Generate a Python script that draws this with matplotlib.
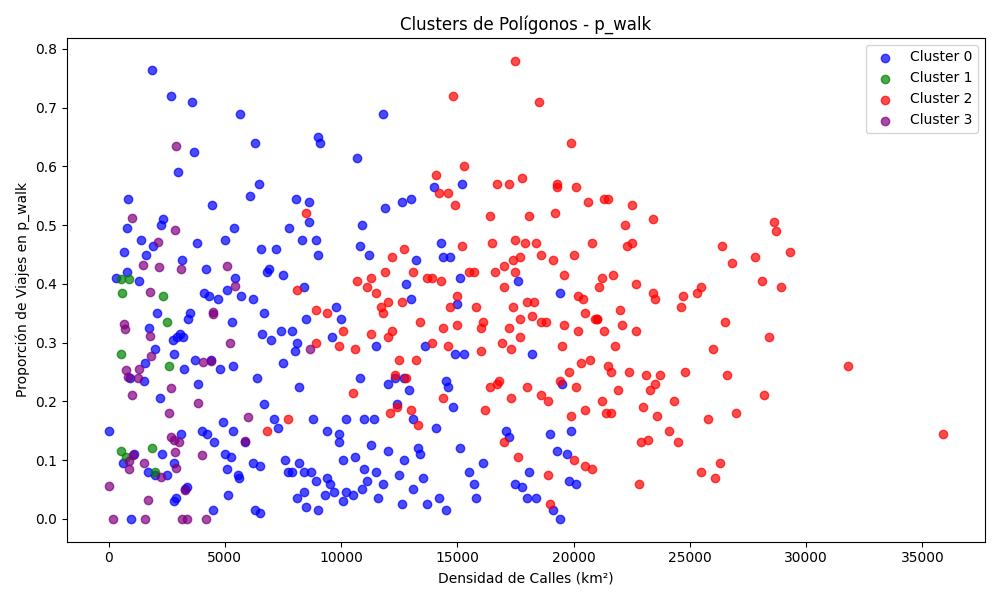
import matplotlib.pyplot as plt

# cluster 0
c0_x = [0,300,600,650,800,800,850,900,950,1100,1300,1400,1500,1550,1600,1700,1750,1850,1900,2000,2000,2100,2200,2250,2300,2350,2500,2700,2750,2800,2800,2800,2900,2950,3000,3050,3100,3150,3200,3250,3300,3350,3400,3500,3600,3650,3700,3800,3850,4000,4100,4200,4250,4300,4400,4450,4500,4550,4700,4800,4900,5000,5000,5100,5100,5150,5250,5300,5350,5350,5400,5450,5550,5600,5650,5700,5850,6100,6200,6200,6300,6300,6400,6450,6500,6500,6550,6600,6700,6700,6800,6900,7000,7100,7200,7300,7400,7500,7500,7600,7700,7750,7900,7900,8000,8050,8100,8100,8200,8200,8300,8400,8400,8400,8500,8500,8600,8600,8700,8800,8900,8900,9000,9000,9000,9100,9300,9400,9400,9500,9600,9700,9800,9900,9900,10000,10100,10100,10200,10200,10500,10600,10700,10800,10800,10900,10900,11000,11000,11100,11200,11300,11400,11500,11500,11600,11800,11800,11900,12000,12000,12300,12400,12500,12600,12600,12700,12700,12800,12900,13000,13000,13100,13100,13200,13300,13400,13500,13600,13700,14000,14100,14200,14300,14400,14500,14500,14600,14700,14800,14900,15000,15100,15100,15200,15300,15500,15700,15800,16100,17100,17200,17500,17600,17800,18000,18100,18200,18400,19000,19100,19300,19400,19400,19500,19700,19800,19900,20100]
c0_y = [0.15,0.41,0.095,0.455,0.42,0.495,0.545,0.24,0,0.11,0.405,0.475,0.235,0.265,0.45,0.08,0.325,0.765,0.465,0.29,0.075,0.35,0.205,0.5,0.11,0.51,0.075,0.72,0.305,0.095,0.28,0.03,0.035,0.31,0.59,0.315,0.145,0.44,0.31,0.255,0.05,0.055,0.34,0.35,0.71,0.625,0.27,0.47,0.23,0.15,0.385,0.425,0.145,0.38,0.27,0.535,0.015,0.13,0.375,0.255,0.165,0.11,0.475,0.085,0.39,0.04,0.105,0.335,0.26,0.15,0.495,0.41,0.075,0.07,0.69,0.38,0.13,0.55,0.375,0.095,0.64,0.015,0.24,0.57,0.09,0.01,0.46,0.315,0.195,0.35,0.42,0.425,0.305,0.17,0.46,0.155,0.32,0.415,0.265,0.1,0.08,0.495,0.08,0.32,0.285,0.545,0.3,0.035,0.225,0.095,0.475,0.395,0.08,0.045,0.34,0.02,0.54,0.505,0.08,0.17,0.065,0.475,0.45,0.015,0.65,0.64,0.04,0.07,0.15,0.06,0.31,0.045,0.36,0.13,0.145,0.34,0.03,0.1,0.17,0.045,0.04,0.105,0.615,0.465,0.24,0.5,0.05,0.17,0.085,0.065,0.45,0.125,0.17,0.295,0.08,0.035,0.06,0.69,0.53,0.23,0.115,0.24,0.195,0.075,0.54,0.025,0.1,0.24,0.4,0.22,0.545,0.375,0.17,0.05,0.44,0.12,0.11,0.07,0.295,0.025,0.565,0.155,0.035,0.47,0.445,0.015,0.235,0.225,0.445,0.19,0.28,0.365,0.41,0.12,0.57,0.28,0.08,0.06,0.035,0.095,0.15,0.14,0.06,0.405,0.055,0.035,0.08,0.28,0.035,0.145,0.015,0.115,0,0.385,0.23,0.11,0.065,0.15,0.06]

# cluster 1
c1_x = [550,880,580,2340,2500,525,510,740,1880,2000,2600]
c1_y = [0.408,0.408,0.385,0.38,0.335,0.28,0.115,0.105,0.12,0.08,0.26]

# cluster 2
c2_x = [6800,7700,8100,8500,8900,8900,9400,9900,10100,10500,10600,10700,11100,11300,11300,11500,11700,11800,11900,12000,12000,12100,12200,12200,12300,12400,12500,12600,12700,12800,13000,13100,13200,13300,13400,13700,13900,14100,14200,14300,14400,14400,14600,14700,14800,14900,15000,15000,15200,15300,15700,15800,16000,16000,16100,16200,16400,16500,16600,16700,16800,16900,17000,17000,17200,17200,17300,17300,17400,17400,17500,17500,17500,17600,17700,17700,17800,17900,18000,18000,18100,18200,18400,18500,18600,18600,18800,18900,19000,19100,19200,19300,19400,19500,19600,19800,19900,19900,20000,20100,20100,20200,20300,20400,20500,20600,20700,20800,20800,21000,21100,21200,21300,21300,21500,21700,21800,22000,22100,22200,22300,22400,22500,22700,22800,23000,23100,23200,23300,23400,23400,23500,23600,23700,24100,24300,24500,24600,24700,24800,25300,25500,25500,25800,26000,26100,26300,26400,26500,26600,26800,27000,27800,28100,28200,28400,28600,28700,28900,29300,31800,35900,13900,15500,14600,19600,20500,21000,22500,18300,17000,16400,18600,21500,21900,22700,19300,20200,20900,21600,21400,21600,21200,22900,23500,20000,20500,17700,16700,18900]
c2_y = [0.15,0.17,0.39,0.52,0.3,0.355,0.35,0.295,0.32,0.215,0.29,0.405,0.395,0.41,0.315,0.385,0.36,0.35,0.42,0.37,0.31,0.18,0.445,0.32,0.245,0.19,0.27,0.37,0.46,0.24,0.185,0.42,0.27,0.16,0.335,0.41,0.3,0.585,0.555,0.405,0.325,0.205,0.295,0.36,0.72,0.535,0.38,0.33,0.465,0.6,0.42,0.36,0.325,0.285,0.335,0.185,0.515,0.47,0.42,0.57,0.235,0.3,0.395,0.43,0.57,0.325,0.29,0.205,0.44,0.36,0.42,0.475,0.78,0.105,0.445,0.31,0.58,0.47,0.225,0.37,0.515,0.345,0.47,0.71,0.45,0.21,0.335,0.075,0.025,0.44,0.52,0.565,0.235,0.295,0.415,0.25,0.64,0.175,0.45,0.225,0.565,0.32,0.265,0.375,0.185,0.54,0.27,0.47,0.085,0.34,0.395,0.41,0.545,0.32,0.545,0.415,0.295,0.355,0.33,0.5,0.465,0.25,0.535,0.32,0.06,0.19,0.245,0.135,0.22,0.51,0.385,0.375,0.175,0.245,0.15,0.2,0.13,0.36,0.38,0.25,0.385,0.395,0.08,0.17,0.29,0.07,0.095,0.465,0.335,0.245,0.435,0.18,0.445,0.405,0.21,0.31,0.505,0.49,0.395,0.455,0.26,0.145,0.41,0.42,0.555,0.33,0.35,0.34,0.47,0.37,0.13,0.225,0.335,0.26,0.22,0.4,0.57,0.38,0.34,0.25,0.18,0.18,0.2,0.13,0.23,0.1,0.09,0.34,0.23,0.2]

# cluster 3
c3_x = [0,170,670,710,750,840,880,880,1000,1000,1050,1260,1300,1470,1550,1510,1675,1760,1800,1840,2135,2180,2260,2600,2680,2680,2800,2850,2890,3100,3140,3300,3390,3850,4020,4060,4190,4400,4480,4480,5070,5230,5440,5860,6000,8670,2850,2890,3010]
c3_y = [0.056,0,0.331,0.323,0.253,0.241,0.099,0.085,0.513,0.21,0.109,0.24,0.255,0.433,0,0.095,0.032,0.386,0.311,0.277,0.472,0.428,0.071,0.18,0.222,0.139,0.134,0.492,0.634,0.426,0,0.049,0,0.197,0.109,0.267,0,0.268,0.352,0.348,0.43,0.299,0.397,0.132,0.173,0.289,0.114,0.087,0.13]

plt.figure(figsize=(10, 6))
plt.scatter(c0_x, c0_y, c='blue', alpha=0.7, label='Cluster 0')
plt.scatter(c1_x, c1_y, c='green', alpha=0.7, label='Cluster 1')
plt.scatter(c2_x, c2_y, c='red', alpha=0.7, label='Cluster 2')
plt.scatter(c3_x, c3_y, c='purple', alpha=0.7, label='Cluster 3')
plt.title('Clusters de Polígonos - p_walk')
plt.xlabel('Densidad de Calles (km²)')
plt.ylabel('Proporción de Viajes en p_walk')
plt.legend(loc='upper right')
plt.tight_layout()
plt.savefig('out.png', dpi=100)
